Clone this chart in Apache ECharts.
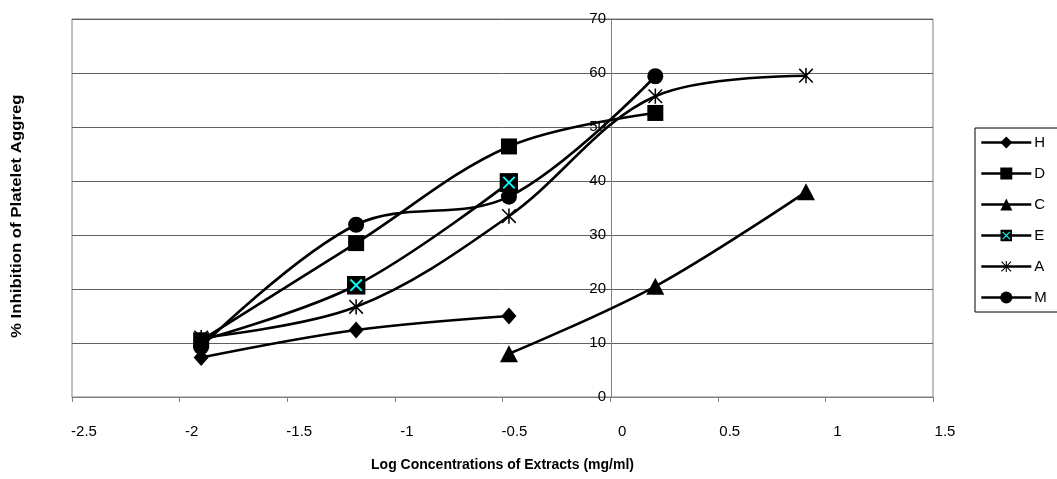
<!DOCTYPE html>
<html>
<head>
<meta charset="utf-8">
<script src="https://cdn.jsdelivr.net/npm/echarts@6/dist/echarts.min.js"></script>
<style>
html,body{margin:0;padding:0;background:#fff;}
#chart{width:1057px;height:479px;}
</style>
</head>
<body>
<div id="chart"></div>
<script>
// ---- data ----
var xLog = [-1.9, -1.18, -0.47, 0.21, 0.91];
var seriesNames = ['H', 'D', 'C', 'E', 'A', 'M'];
var valH = [7.3, 12.4, 15.0];              // x[0..2]
var valD = [10.5, 28.5, 46.4, 52.6];       // x[0..3]
var valC = [8.0, 20.5, 38.0];              // x[2..4]
var valE = [10.5, 20.7, 39.7];             // x[0..2]
var valA = [11.0, 16.7, 33.5, 55.7, 59.5]; // x[0..4]
var valM = [9.3, 31.9, 37.1, 59.4];        // x[0..3]
var startIdx = {H: 0, D: 0, C: 2, E: 0, A: 0, M: 0};
var xTicks = [-2.5, -2, -1.5, -1, -0.5, 0, 0.5, 1, 1.5];
var yTicks = [0, 10, 20, 30, 40, 50, 60, 70];
var xTitle = 'Log Concentrations of Extracts (mg/ml)';
var yTitle = '% Inhibition of Platelet Aggreg';

var svgE = '<svg xmlns="http://www.w3.org/2000/svg" width="20" height="20" viewBox="0 0 20 20">' +
  '<rect x="0" y="0" width="20" height="20" fill="#000"/>' +
  '<path d="M4 4 L16 16 M16 4 L4 16" stroke="#00FFFF" stroke-width="2"/></svg>';
var svgA = '<svg xmlns="http://www.w3.org/2000/svg" width="20" height="20" viewBox="0 0 20 20">' +
  '<path d="M2 2 L18 18 M18 2 L2 18 M10 1 L10 19" stroke="#000" stroke-width="1.8"/></svg>';
var symE = 'image://data:image/svg+xml;charset=utf-8,' + encodeURIComponent(svgE);
var symA = 'image://data:image/svg+xml;charset=utf-8,' + encodeURIComponent(svgA);

var styleMap = {
  H: {symbol: 'diamond', size: [15, 17]},
  D: {symbol: 'rect', size: 16},
  C: {symbol: 'triangle', size: [18, 17]},
  E: {symbol: symE, size: 19},
  A: {symbol: symA, size: 17},
  M: {symbol: 'circle', size: 16}
};
var valMap = {H: valH, D: valD, C: valC, E: valE, A: valA, M: valM};

function buildData(n) {
  var s = startIdx[n];
  return valMap[n].map(function (v, i) {
    var item = {value: [xLog[s + i], v]};
    // in the reference the first E marker is hidden under the cluster at x=-1.9
    if (n === 'E' && i === 0) { item.symbol = 'none'; }
    return item;
  });
}

var series = seriesNames.map(function (n) {
  return {
    name: n,
    type: 'line',
    smooth: 0.35,
    data: buildData(n),
    symbol: styleMap[n].symbol,
    symbolSize: styleMap[n].size,
    showAllSymbol: true,
    lineStyle: {color: '#000', width: 2.6},
    itemStyle: {color: '#000', borderColor: '#000', borderWidth: 0},
    emphasis: {disabled: true},
    animation: false,
    z: 3
  };
});

var chart = echarts.init(document.getElementById('chart'));
chart.setOption({
  animation: false,
  backgroundColor: '#fff',
  textStyle: {fontFamily: 'Liberation Sans, Arial, sans-serif'},
  grid: {
    left: 72, right: 124, top: 19, bottom: 82,
    show: true, borderColor: '#808080', borderWidth: 1,
    containLabel: false
  },
  legend: {
    orient: 'vertical',
    left: 975, top: 128,
    data: seriesNames,
    itemWidth: 50, itemHeight: 15,
    itemGap: 16,
    padding: [7, 100, 7, 5],
    borderColor: '#000', borderWidth: 1,
    lineStyle: {width: 2.6, color: '#000'},
    textStyle: {fontSize: 15, color: '#000', fontFamily: 'Liberation Sans, Arial, sans-serif', padding: [0, 0, 0, -2]},
    selectedMode: false
  },
  xAxis: {
    type: 'value',
    min: xTicks[0], max: xTicks[xTicks.length - 1], interval: 0.5,
    name: xTitle, nameLocation: 'middle', nameGap: 61,
    nameTextStyle: {fontSize: 14, fontWeight: 'bold', color: '#000'},
    axisLine: {show: true, onZero: false, lineStyle: {color: '#808080', width: 1}},
    axisTick: {show: true, length: 5, inside: false, lineStyle: {color: '#808080'}},
    axisLabel: {fontSize: 15, color: '#000', margin: 27, padding: [0, 0, 0, 24]},
    splitLine: {show: false}
  },
  yAxis: {
    type: 'value',
    min: yTicks[0], max: yTicks[yTicks.length - 1], interval: 10,
    offset: -539,
    axisLine: {show: true, onZero: false, lineStyle: {color: '#808080', width: 1}},
    axisTick: {show: false},
    axisLabel: {fontSize: 15, color: '#000', margin: 5},
    splitLine: {show: true, lineStyle: {color: '#606060', width: 1}}
  },
  graphic: [{
    type: 'text',
    rotation: Math.PI / 2,
    x: 10, y: 338,
    scaleX: 1.2,
    style: {text: yTitle, font: 'bold 14px Liberation Sans, Arial, sans-serif', fill: '#000'}
  }],
  series: series
});
</script>
</body>
</html>
